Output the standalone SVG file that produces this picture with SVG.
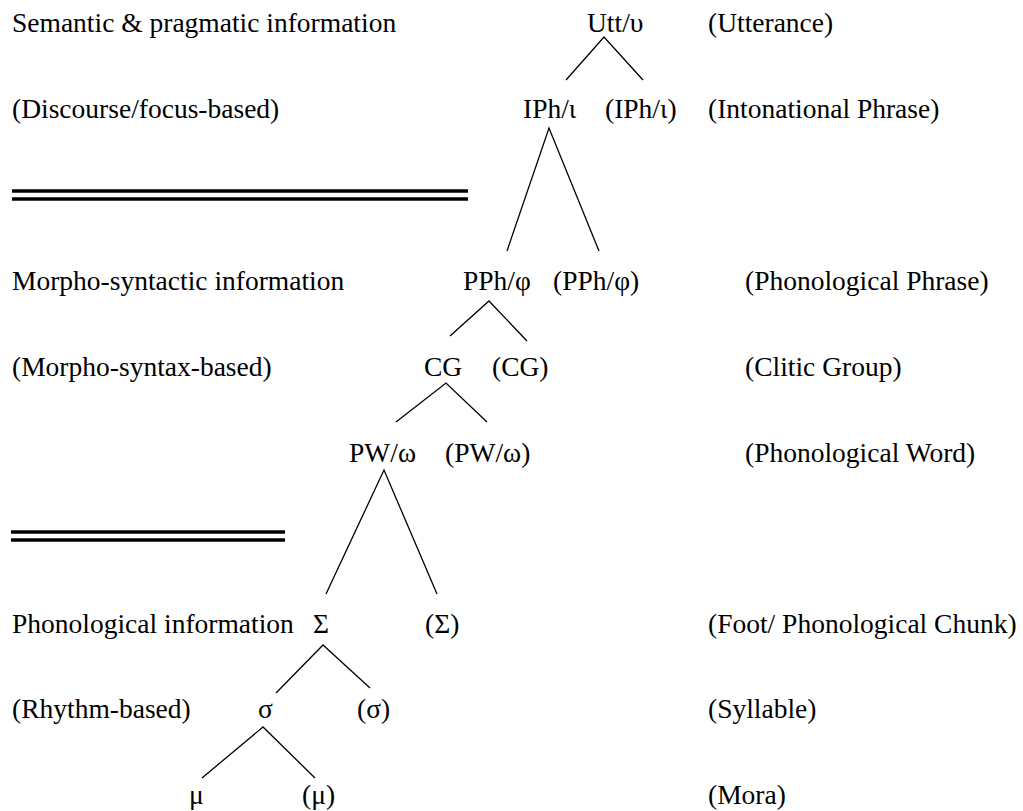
<svg xmlns="http://www.w3.org/2000/svg" width="1023" height="811" viewBox="0 0 1023 811">
  <style>
    text { font-family: "Liberation Serif", "Times New Roman", serif; font-size: 27.5px; fill: #000; }
    .edge { stroke: #000; stroke-width: 1.3; fill: none; }
    .rule { stroke: #000; stroke-width: 3.5; }
  </style>
  <rect width="1023" height="811" fill="#fff"/>

  <!-- information-type labels (left column) -->
  <g id="labels-left">
    <text x="12" y="32">Semantic &amp; pragmatic information</text>
    <text x="12" y="118">(Discourse/focus-based)</text>
    <text x="12" y="290">Morpho-syntactic information</text>
    <text x="12" y="376">(Morpho-syntax-based)</text>
    <text x="12" y="633">Phonological information</text>
    <text x="12" y="718">(Rhythm-based)</text>
  </g>

  <!-- separators between information domains -->
  <g id="separators">
    <line class="rule" x1="12" y1="191" x2="468" y2="191"/>
    <line class="rule" x1="12" y1="199" x2="468" y2="199"/>
    <line class="rule" x1="11" y1="532" x2="285" y2="532"/>
    <line class="rule" x1="11" y1="540" x2="285" y2="540"/>
  </g>

  <!-- prosodic hierarchy nodes -->
  <g id="node-utt"><text x="587" y="32">Utt/υ</text></g>
  <g id="node-iph"><text x="523" y="118">IPh/ι</text></g>
  <g id="node-iph-opt"><text x="605" y="118">(IPh/ι)</text></g>
  <g id="node-pph"><text x="463" y="290">PPh/φ</text></g>
  <g id="node-pph-opt"><text x="553" y="290">(PPh/φ)</text></g>
  <g id="node-cg"><text x="424" y="376">CG</text></g>
  <g id="node-cg-opt"><text x="492" y="376">(CG)</text></g>
  <g id="node-pw"><text x="349" y="462">PW/ω</text></g>
  <g id="node-pw-opt"><text x="445" y="462">(PW/ω)</text></g>
  <g id="node-foot"><text x="313" y="633">Σ</text></g>
  <g id="node-foot-opt"><text x="425" y="633">(Σ)</text></g>
  <g id="node-syl"><text x="258" y="718">σ</text></g>
  <g id="node-syl-opt"><text x="357" y="718">(σ)</text></g>
  <g id="node-mora"><text x="189" y="804">μ</text></g>
  <g id="node-mora-opt"><text x="302" y="804">(μ)</text></g>

  <!-- level names (right column) -->
  <g id="labels-right">
    <text x="708" y="32">(Utterance)</text>
    <text x="708" y="118">(Intonational Phrase)</text>
    <text x="745" y="290">(Phonological Phrase)</text>
    <text x="745" y="376">(Clitic Group)</text>
    <text x="745" y="462">(Phonological Word)</text>
    <text x="708" y="633">(Foot/ Phonological Chunk)</text>
    <text x="708" y="718">(Syllable)</text>
    <text x="708" y="804">(Mora)</text>
  </g>

  <!-- dominance branches -->
  <g id="connectors">
    <polyline class="edge" points="566,80 604,37 643,80"/>
    <polyline class="edge" points="507,251 549,128 599,251"/>
    <polyline class="edge" points="450,336 489,301 527,341"/>
    <polyline class="edge" points="396,422 446,383 487,422"/>
    <polyline class="edge" points="326,594 384,470 437,594"/>
    <polyline class="edge" points="276,693 323,645 370,688"/>
    <polyline class="edge" points="202,778 263,727 315,778"/>
  </g>
</svg>
